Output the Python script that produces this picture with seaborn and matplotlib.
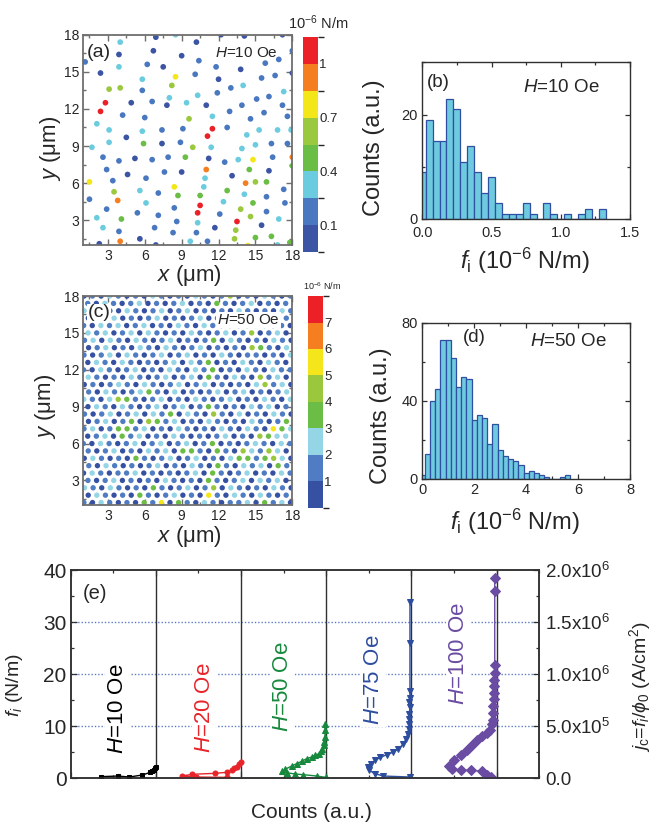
import numpy as np
import matplotlib
matplotlib.use("Agg")
import matplotlib.pyplot as plt
import seaborn as sns
from matplotlib.colors import ListedColormap, BoundaryNorm
from matplotlib.cm import ScalarMappable
from matplotlib.ticker import MultipleLocator, FixedLocator, FixedFormatter

sns.set_theme(style="ticks")
plt.rcParams["font.family"] = ["Liberation Sans", "DejaVu Sans"]
plt.rcParams["mathtext.fontset"] = "custom"
plt.rcParams["mathtext.rm"] = "Liberation Sans"
plt.rcParams["mathtext.it"] = "Liberation Sans:italic"
plt.rcParams["mathtext.bf"] = "Liberation Sans:bold"

# ---------------- (a) pinning-force map, H = 10 Oe ----------------
map_a_x = [8.5, 12.2, 14.1, 17.2, 6.9, 4.0, 10.2, 1.15, 3.9, 6.7, 9.0, 10.4, 18.0, 16.9,
           2.4, 3.9, 6.2, 7.5, 8.5, 10.1, 11.8, 12.0, 13.8, 15.5, 15.8, 16.6, 18.0, 5.8,
           3.1, 4.0, 5.8, 8.2, 8.0, 10.3, 11.9, 13.0, 14.0, 16.1, 17.3, 2.8, 2.4, 4.9,
           6.6, 7.8, 9.4, 11.0, 13.9, 15.1, 17.2, 4.2, 6.0, 9.6, 11.5, 12.9, 14.6, 15.7,
           17.6, 2.1, 3.1, 5.8, 7.4, 9.1, 11.5, 11.1, 12.7, 14.3, 15.3, 16.8, 17.9, 4.5,
           1.7, 3.1, 5.9, 7.4, 8.9, 9.9, 11.4, 13.9, 15.0, 16.3, 17.6, 2.6, 3.9, 5.2,
           6.6, 7.9, 9.3, 11.2, 12.5, 13.6, 14.8, 16.4, 18.0, 2.9, 4.6, 7.6, 9.0, 11.0,
           10.9, 13.1, 14.5, 16.1, 18.0, 1.5, 3.4, 6.1, 8.4, 14.2, 15.0, 15.9, 5.6, 3.5,
           7.1, 8.7, 10.5, 10.8, 12.7, 14.1, 15.9, 17.3, 1.5, 3.8, 6.1, 8.4, 10.5, 12.4,
           14.8, 17.4, 2.9, 5.4, 7.1, 10.3, 12.1, 13.8, 14.6, 15.9, 2.1, 4.1, 8.6, 10.3,
           13.5, 16.9, 2.6, 3.9, 6.8, 8.3, 10.2, 11.7, 13.4, 15.5, 5.6, 2.3, 4.0, 6.9,
           9.7, 11.1, 13.3, 15.0, 16.3, 17.8, 14.4, 16.8]
map_a_y = [18.0, 18.0, 17.9, 18.0, 17.8, 17.4, 17.4, 15.8, 16.4, 16.7, 16.3, 15.9, 16.7, 16.0,
           14.9, 15.4, 15.6, 15.4, 14.6, 14.8, 15.4, 14.4, 15.2, 14.5, 15.7, 14.7, 14.9, 14.4,
           13.6, 13.7, 13.5, 13.9, 12.9, 13.1, 13.3, 13.7, 13.9, 13.0, 13.4, 12.5, 11.8, 12.5,
           12.6, 12.3, 12.5, 12.3, 12.3, 12.8, 12.3, 11.5, 11.3, 11.2, 11.4, 11.8, 11.2, 11.7,
           11.4, 10.8, 10.3, 10.2, 10.3, 10.4, 10.4, 9.8, 10.5, 9.9, 10.3, 10.3, 10.3, 9.7,
           8.9, 9.3, 9.2, 9.2, 9.3, 8.9, 8.9, 8.8, 9.1, 9.2, 9.2, 8.1, 7.8, 8.0,
           7.9, 8.1, 8.1, 8.0, 7.7, 7.9, 7.9, 8.1, 8.1, 7.1, 6.7, 6.9, 6.9, 7.1,
           6.4, 6.6, 7.1, 7.0, 7.4, 6.1, 6.2, 6.4, 5.7, 6.0, 6.1, 6.1, 5.4, 5.3,
           5.2, 5.0, 5.0, 5.7, 5.4, 5.1, 4.9, 5.5, 4.7, 4.6, 4.4, 4.0, 4.2, 4.5,
           4.4, 4.4, 3.9, 3.6, 3.4, 3.6, 3.5, 3.9, 3.3, 3.7, 3.2, 3.1, 2.9, 2.8,
           2.9, 3.1, 2.4, 2.1, 2.4, 2.0, 2.0, 2.4, 2.2, 2.6, 1.5, 1.1, 1.3, 1.0,
           1.3, 1.3, 1.5, 1.6, 1.7, 1.2, 0.95, 1.0]
map_a_f = [0.33, 0.05, 0.05, 0.05, 0.05, 0.33, 0.05, 0.18, 0.05, 0.05, 0.05, 0.18, 0.18, 0.18,
           0.05, 0.33, 0.18, 0.05, 0.78, 0.18, 0.18, 0.05, 0.05, 0.18, 0.18, 0.18, 0.05, 0.33,
           0.62, 0.62, 0.18, 0.62, 0.33, 0.33, 0.18, 0.18, 0.33, 0.18, 0.33, 1.08, 1.08, 0.05,
           0.18, 0.05, 0.33, 0.05, 0.18, 0.18, 0.18, 0.18, 0.18, 0.62, 0.33, 0.18, 0.18, 0.18,
           0.18, 0.33, 0.33, 0.33, 0.18, 0.18, 1.08, 1.08, 0.18, 0.33, 0.33, 0.33, 0.33, 0.05,
           0.33, 0.33, 0.48, 0.05, 0.18, 0.62, 0.33, 0.33, 0.33, 0.18, 0.18, 0.18, 0.18, 0.05,
           0.18, 0.18, 0.48, 0.05, 0.18, 0.33, 0.78, 0.18, 0.92, 0.18, 0.05, 0.18, 0.05, 0.92,
           0.33, 0.05, 0.48, 0.05, 0.48, 0.78, 0.18, 0.18, 0.78, 0.92, 0.62, 0.48, 0.33, 0.62,
           0.18, 0.48, 0.48, 0.33, 0.48, 0.33, 0.18, 0.18, 0.18, 0.92, 0.33, 0.18, 1.08, 0.33,
           0.48, 0.18, 0.18, 0.18, 0.18, 1.08, 0.18, 0.62, 0.62, 0.18, 0.33, 0.48, 0.18, 0.33,
           1.08, 0.33, 0.33, 0.18, 0.18, 0.18, 0.18, 0.05, 0.62, 0.05, 0.05, 0.05, 0.92, 0.05,
           0.33, 0.18, 0.62, 0.48, 0.48, 0.48, 0.78, 0.33]
levels_a = [-0.05, 0.1, 0.25, 0.4, 0.55, 0.7, 0.85, 1.0, 1.15]
cbar_ticks_a = [0.1, 0.4, 0.7, 1.0]
cbar_labels_a = ["0.1", "0.4", "0.7", "1"]
colors_a = ["#3b54a4", "#4a78c0", "#6cccdf", "#6abd45", "#9ac83e", "#f3e619", "#f47e20", "#ec2027"]

# ---------------- (c) pinning-force map, H = 50 Oe ----------------
# one string per vortex row, one digit per vortex: the force band (10^-6 N/m)
map_c_rows = [
    "1021010315031021011203120",
    "021010310120105102102101",
    "2102101031012014021010210",
    "101201010210103101202120",
    "0210112010101203101201021",
    "102101012010210310212031",
    "0210103101201201023313420",
    "101201021203310310421420",
    "1021012012012013010121021",
    "012031201021010120104322",
    "1201331201021010210210532",
    "012013043120102101021013",
    "1012012021302104102010210",
    "021021012012013101021201",
    "2102431012010210120102102",
    "102101231020101201201012",
    "0101210210120120101024120",
    "210102101201203102104120",
    "1021012010210213010210211",
    "021021010120213010210210",
    "1012021012012010210110102",
    "012010210210120101043102",
    "1202102101201013021010210",
    "212012021010210120140120",
    "1021201201021021010121010",
    "021201012010120102101201",
    "2101021012012010102101021",
    "102101201012010310120101",
    "0102101021010210140102101",
]
map_c_row_y = [1.2, 1.8, 2.4, 3.0, 3.6, 4.2, 4.8, 5.4, 6.0, 6.6, 7.2, 7.8, 8.4, 9.0, 9.6,
               10.2, 10.8, 11.4, 12.0, 12.6, 13.2, 13.8, 14.4, 15.0, 15.6, 16.2, 16.8,
               17.4, 18.0]
map_c_row_x0 = [1.05, 1.40, 1.10, 1.38, 1.02, 1.45, 1.08, 1.40, 1.00, 1.36, 1.06, 1.42,
                1.10, 1.38, 1.04, 1.44, 1.08, 1.40, 1.02, 1.37, 1.06, 1.43, 1.10, 1.39,
                1.03, 1.41, 1.07, 1.36, 1.05]
map_c_pitch = 0.7
levels_c = [0, 1, 2, 3, 4, 5, 6, 7, 8]
cbar_ticks_c = [1, 2, 3, 4, 5, 6, 7]
colors_c = ["#3751a2", "#4f7cc2", "#94d5e6", "#6cbd45", "#9bc73d", "#f4e61b", "#f47e20", "#ec2027"]

# ---------------- (b), (d) histograms ----------------
hist_b_centers = [0.00, 0.05, 0.10, 0.15, 0.20, 0.25, 0.30, 0.35, 0.40, 0.45, 0.50, 0.55,
                  0.60, 0.65, 0.70, 0.75, 0.80, 0.85, 0.90, 0.95, 1.00, 1.05, 1.10, 1.15,
                  1.20, 1.25, 1.30]
hist_b_counts = [9, 19, 15, 15, 23, 21, 11, 14, 9, 5, 8, 3, 1, 1, 1, 3, 1, 0, 3, 1, 0, 1,
                 0, 1, 2, 0, 2]
hist_d_centers = [0.0, 0.2, 0.4, 0.6, 0.8, 1.0, 1.2, 1.4, 1.6, 1.8, 2.0, 2.2, 2.4, 2.6,
                  2.8, 3.0, 3.2, 3.4, 3.6, 3.8, 4.0, 4.2, 4.4, 4.6, 4.8, 5.0, 5.2, 5.4, 5.6]
hist_d_counts = [2, 13, 40, 46, 71, 71, 62, 47, 52, 51, 30, 33, 31, 18, 28, 15, 12, 10, 9,
                 7, 3, 4, 3, 2, 1, 0, 0, 1, 2]

# ---------------- (e) force distributions for five fields ----------------
field_labels = ["$H$=10 Oe", "$H$=20 Oe", "$H$=50 Oe", "$H$=75 Oe", "$H$=100 Oe"]
field_colors = ["#000000", "#e8242a", "#17893d", "#2d4d9e", "#6a4ca2"]
field_markers = ["s", "o", "^", "v", "D"]
f_10 = [0.26, 0.38, 0.19, 0.58, 1.09, 1.35, 1.60, 1.99, 2.10]
n_10 = [0.648, 0.448, 0.312, 0.159, 0.065, 0.042, 0.026, 0.010, 0.002]
f_20 = [3.14, 2.63, 2.18, 1.86, 1.54, 1.09, 0.90, 0.71, 0.38, 0.19, 0.13]
n_20 = [0.002, 0.025, 0.052, 0.080, 0.111, 0.170, 0.307, 0.573, 0.698, 0.534, 0.170]
f_50 = [10.45, 9.17, 7.88, 6.92, 6.28, 5.64, 5.13, 4.68, 4.36, 4.04, 3.72, 3.21, 2.76,
        2.31, 1.67, 1.28, 1.03, 0.77, 0.64, 0.38, 0.13]
n_50 = [0.015, 0.015, 0.015, 0.023, 0.031, 0.046, 0.062, 0.085, 0.132, 0.171, 0.230,
        0.289, 0.347, 0.406, 0.484, 0.516, 0.465, 0.367, 0.269, 0.113, 0.008]
f_75 = [33.8, 26.0, 16.7, 15.4, 14.6, 13.65, 12.4, 11.4, 10.4, 9.5, 8.5, 7.5, 6.5, 5.6,
        4.97, 4.46, 3.95, 3.37, 2.73, 2.1, 1.46, 0.83, 0.38, 0.19]
n_75 = [0.018, 0.018, 0.018, 0.018, 0.026, 0.018, 0.026, 0.034, 0.026, 0.034, 0.045,
        0.065, 0.096, 0.155, 0.213, 0.292, 0.370, 0.429, 0.480, 0.507, 0.495, 0.429,
        0.331, 0.018]
f_100 = [38.5, 36.0, 21.7, 20.2, 18.9, 17.6, 16.3, 15.1, 13.8, 12.5, 11.2, 10.3, 9.3,
         8.7, 8.0, 7.4, 6.4, 5.4, 4.5, 3.5, 2.3, 1.8, 1.5, 1.5, 1.27, 0.64, 0.13]
n_100 = [0.023, 0.023, 0.023, 0.023, 0.031, 0.031, 0.031, 0.031, 0.039, 0.039, 0.047,
         0.054, 0.078, 0.109, 0.167, 0.226, 0.284, 0.343, 0.421, 0.499, 0.558, 0.519,
         0.421, 0.304, 0.167, 0.116, 0.062]
field_f = [f_10, f_20, f_50, f_75, f_100]
field_n = [n_10, n_20, n_50, n_75, n_100]
field_msize = [3.3, 3.6, 4.2, 3.8, 4.8]
label_xy = [(0.555, 13.3), (1.565, 13.6), (2.49, 17.6), (3.55, 19.0), (4.55, 24.0)]
jc_ticks = [0.0, 5.0e5, 1.0e6, 1.5e6, 2.0e6]
jc_labels = ["0.0", "5.0x10$^5$", "1.0x10$^6$", "1.5x10$^6$", "2.0x10$^6$"]

fig = plt.figure(figsize=(6.6, 8.26), dpi=100)

FRAME = "#6e6e6e"
DARK = "#303030"


def style_map_axes(ax):
    ax.set_xlim(1, 18)
    ax.set_ylim(1, 18)
    for a in (ax.xaxis, ax.yaxis):
        a.set_major_locator(FixedLocator([3, 6, 9, 12, 15, 18]))
        a.set_minor_locator(MultipleLocator(1.5))
    ax.tick_params(which="both", direction="in", top=True, right=True, color=FRAME,
                   labelsize=10, pad=3, width=1.0)
    ax.tick_params(which="major", length=4)
    ax.tick_params(which="minor", length=2.5)
    for s in ax.spines.values():
        s.set_color(FRAME)
        s.set_linewidth(1.3)
    ax.set_xlabel("$x$ (μm)", fontsize=16)
    ax.set_ylabel("$y$ (μm)", fontsize=16)


def draw_colorbar(cax, colors, levels, ticks, labels):
    cmap = ListedColormap(colors)
    norm = BoundaryNorm(levels, cmap.N)
    cb = fig.colorbar(ScalarMappable(norm=norm, cmap=cmap), cax=cax, ticks=ticks)
    cb.ax.set_yticklabels(labels)
    cb.outline.set_visible(False)
    cax.tick_params(length=0, labelsize=9.5, pad=1)


# (a)
ax_a = fig.add_axes([0.1262, 0.7034, 0.3167, 0.2546])
band_a = np.digitize(map_a_f, levels_a) - 1
sns.scatterplot(x=map_a_x, y=map_a_y, hue=band_a, palette=dict(enumerate(colors_a)),
                s=17, linewidth=0, legend=False, ax=ax_a)
style_map_axes(ax_a)
ax_a.xaxis.set_label_coords(0.506, -0.085)
ax_a.yaxis.set_label_coords(-0.097, 0.46)
ax_a.text(0.018, 0.915, "(a)", transform=ax_a.transAxes, fontsize=14, va="center")
ax_a.text(0.93, 0.913, "$H$=10 Oe", transform=ax_a.transAxes, fontsize=11,
          va="center", ha="right")
cax_a = fig.add_axes([0.4591, 0.6949, 0.0227, 0.2603])
draw_colorbar(cax_a, colors_a, levels_a, cbar_ticks_a, cbar_labels_a)
fig.text(0.436, 0.972, "10$^{-6}$ N/m", fontsize=10.5, va="center", ha="left")

# (c)
c_x, c_y, c_band = [], [], []
for y0, x0, row in zip(map_c_row_y, map_c_row_x0, map_c_rows):
    for j, ch in enumerate(row):
        c_x.append(x0 + map_c_pitch * j)
        c_y.append(y0)
        c_band.append(int(ch))
ax_c = fig.add_axes([0.1262, 0.3886, 0.3167, 0.2530])
sns.scatterplot(x=c_x, y=c_y, hue=c_band, palette=dict(enumerate(colors_c)),
                s=15, linewidth=0, legend=False, ax=ax_c)
style_map_axes(ax_c)
ax_c.xaxis.set_label_coords(0.506, -0.092)
ax_c.yaxis.set_label_coords(-0.122, 0.47)
ax_c.text(0.02, 0.919, "(c)", transform=ax_c.transAxes, fontsize=14, va="center",
          bbox=dict(facecolor="white", edgecolor="none", pad=0.5))
ax_c.text(0.94, 0.885, "$H$=50 Oe", transform=ax_c.transAxes, fontsize=11,
          va="center", ha="right", bbox=dict(facecolor="white", edgecolor="none", pad=1.0))
cax_c = fig.add_axes([0.4667, 0.3853, 0.0227, 0.2563])
draw_colorbar(cax_c, colors_c, levels_c, cbar_ticks_c, [str(t) for t in cbar_ticks_c])
fig.text(0.459, 0.654, "10$^{-6}$ N/m", fontsize=6.5, va="center", ha="left")

# histograms
BAR_FACE = "#6ecadf"
BAR_EDGE = "#2f4fa3"


def style_hist_axes(ax):
    ax.tick_params(which="both", direction="in", top=True, right=True, color=DARK,
                   labelsize=10.5, pad=3, width=0.9)
    ax.tick_params(which="major", length=3.5)
    ax.tick_params(which="minor", length=2)
    for s in ax.spines.values():
        s.set_color(DARK)
        s.set_linewidth(1.0)
    ax.set_xlabel("$f_\\mathrm{i}$ (10$^{-6}$ N/m)", fontsize=17)
    ax.set_ylabel("Counts (a.u.)", fontsize=17)


ax_b = fig.add_axes([0.6398, 0.7349, 0.3147, 0.1897])
sns.histplot(x=hist_b_centers, weights=hist_b_counts, binwidth=0.05,
             binrange=(-0.025, 1.325), color=BAR_FACE, edgecolor=BAR_EDGE,
             linewidth=0.9, alpha=1, ax=ax_b)
ax_b.set_xlim(0, 1.5)
ax_b.set_ylim(0, 30)
ax_b.xaxis.set_major_locator(MultipleLocator(0.5))
ax_b.xaxis.set_minor_locator(MultipleLocator(0.25))
ax_b.yaxis.set_major_locator(MultipleLocator(20))
ax_b.yaxis.set_minor_locator(MultipleLocator(10))
style_hist_axes(ax_b)
ax_b.tick_params(axis="x", pad=5)
ax_b.xaxis.set_label_coords(0.494, -0.17)
ax_b.yaxis.set_label_coords(-0.18, 0.456)
ax_b.text(0.023, 0.874, "(b)", transform=ax_b.transAxes, fontsize=13.5, va="center")
ax_b.text(0.485, 0.842, "$H$=10 Oe", transform=ax_b.transAxes, fontsize=13.5, va="center")

ax_d = fig.add_axes([0.6398, 0.4201, 0.3147, 0.1892])
sns.histplot(x=hist_d_centers, weights=hist_d_counts, binwidth=0.2,
             binrange=(-0.1, 5.7), color=BAR_FACE, edgecolor=BAR_EDGE,
             linewidth=0.9, alpha=1, ax=ax_d)
ax_d.set_xlim(0, 8)
ax_d.set_ylim(0, 80)
ax_d.xaxis.set_major_locator(MultipleLocator(2))
ax_d.xaxis.set_minor_locator(MultipleLocator(1))
ax_d.yaxis.set_major_locator(MultipleLocator(40))
ax_d.yaxis.set_minor_locator(MultipleLocator(20))
style_hist_axes(ax_d)
ax_d.xaxis.set_label_coords(0.444, -0.18)
ax_d.yaxis.set_label_coords(-0.146, 0.403)
ax_d.text(0.196, 0.908, "(d)", transform=ax_d.transAxes, fontsize=13.5, va="center")
ax_d.text(0.518, 0.877, "$H$=50 Oe", transform=ax_d.transAxes, fontsize=13.5, va="center")

# (e)
ax_e = fig.add_axes([0.1071, 0.0581, 0.7100, 0.2518])
ax_e.set_xlim(0, 5.5)
ax_e.set_ylim(0, 40)
for yg in (10, 20, 30):
    ax_e.axhline(yg, color="#5f7dc6", lw=1.0, ls=(0, (1, 1.4)), zorder=0.5)
for k in range(1, 6):
    ax_e.axvline(k, color=DARK, lw=1.0, zorder=1)
for k in range(5):
    base = k + 1
    xs = base - np.asarray(field_n[k])
    sns.lineplot(x=xs, y=field_f[k], sort=False, estimator=None, color=field_colors[k],
                 marker=field_markers[k], markersize=field_msize[k],
                 markeredgecolor=field_colors[k], linewidth=1.0, ax=ax_e, zorder=3)
    lx, ly = label_xy[k]
    ax_e.text(lx, ly, field_labels[k], rotation=90, color=field_colors[k], fontsize=16,
              ha="center", va="center", zorder=2,
              bbox=dict(facecolor="white", edgecolor="none", pad=1.5))
ax_e.xaxis.set_major_locator(MultipleLocator(1))
ax_e.xaxis.set_minor_locator(MultipleLocator(0.5))
ax_e.yaxis.set_major_locator(MultipleLocator(10))
ax_e.yaxis.set_minor_locator(MultipleLocator(5))
ax_e.tick_params(which="both", direction="in", top=True, color=DARK, labelsize=15,
                 pad=3, width=0.9, labelbottom=False)
ax_e.tick_params(which="major", length=4)
ax_e.tick_params(which="minor", length=2.5)
for s in ax_e.spines.values():
    s.set_color(DARK)
    s.set_linewidth(1.1)
ax_e.set_xlabel("Counts (a.u.)", fontsize=15)
ax_e.set_ylabel("$f_i$ (N/m)", fontsize=14)
ax_e.xaxis.set_label_coords(0.513, -0.118)
ax_e.yaxis.set_label_coords(-0.0975, 0.447)
ax_e.text(0.026, 0.889, "(e)", transform=ax_e.transAxes, fontsize=14.5, va="center")

ax_j = ax_e.twinx()
ax_j.set_ylim(0, 2.0e6)
ax_j.yaxis.set_major_locator(FixedLocator(jc_ticks))
ax_j.yaxis.set_major_formatter(FixedFormatter(jc_labels))
ax_j.yaxis.set_minor_locator(MultipleLocator(2.5e5))
ax_j.tick_params(which="both", direction="in", color=DARK, labelsize=13.5, pad=4, width=0.9)
ax_j.tick_params(which="major", length=4)
ax_j.tick_params(which="minor", length=2.5)
for s in ax_j.spines.values():
    s.set_color(DARK)
    s.set_linewidth(1.1)
ax_j.set_ylabel("$j_\\mathrm{c}$=$f_i$/$\\phi_0$ (A/cm$^2$)", fontsize=14)
ax_j.yaxis.set_label_coords(1.187, 0.4375)

fig.savefig("out.png", dpi=100)
